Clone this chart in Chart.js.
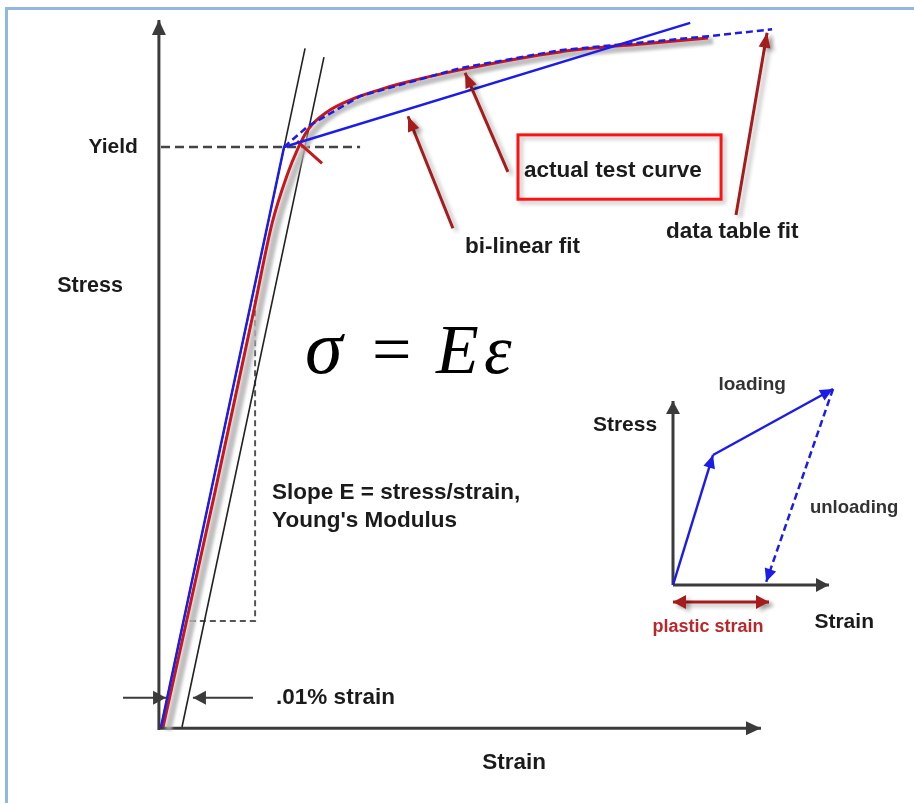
<!DOCTYPE html>
<html>
<head>
<meta charset="utf-8">
<script src="https://cdn.jsdelivr.net/npm/chart.js@4.4.1/dist/chart.umd.min.js"></script>
<style>
  html, body { margin: 0; padding: 0; background: #fff; }
  #wrap { position: relative; width: 914px; height: 803px; overflow: hidden; }
  #frame { position: absolute; left: 5px; top: 7px; width: 920px; height: 810px;
           border-top: 3px solid #94b7e1; border-left: 3px solid #94b7e1; pointer-events: none; }
  canvas { position: absolute; left: 0; top: 0; }
</style>
</head>
<body>
<div id="wrap">
  <canvas id="stressChart" width="914" height="803"></canvas>
  <div id="frame"></div>
</div>
<script>
// main diagram: strain in units of 0.01 %, stress scaled so that yield = 100
const strainRange = [-7.667, 35.857];
const stressRange = [-13.1, 125.35];
const yieldStress = 100;

// elastic line through the origin and the same line offset by .01 % strain
const elasticStrain = [0, 6.86];
const elasticStress = [0, 117.0];
const offsetStrain = [1, 7.76];
const offsetStress = [0, 115.5];

// actual test curve
const testStrain = [0.1, 2.57, 4.4, 5.3, 5.99, 6.5, 7.0, 7.89, 9.14, 10.43, 11.38, 14.24, 19.0, 23.29, 26.05];
const testStress = [0, 40.5, 71.5, 87.0, 95.0, 99.6, 103.0, 106.0, 108.3, 109.9, 110.9, 113.3, 116.4, 117.9, 118.8];

// bi-linear fit
const bilinStrain = [0, 5.86, 25.2];
const bilinStress = [0, 100, 121.4];

// data table fit
const tableStrain = [5.86, 7.0, 9.5, 14.24, 19.0, 26.05, 29.1];
const tableStress = [100, 103.6, 108.8, 113.6, 116.7, 119.1, 120.3];

// offset intersection mark
const markStrain = [6.48, 7.67];
const markStress = [101.0, 97.2];

// slope triangle
const slopeStrain = [4.48, 4.48, 1.33];
const slopeStress = [73.6, 18.3, 18.3];

// inset: loading / unloading path
const insetRange = { x: [-16.825, 6.025], y: [-5.45, 14.625] };
const loadStrain = [0, 1.0, 4.0];
const loadStress = [0, 3.25, 4.9];
const unloadStrain = [4.0, 2.33];
const unloadStress = [4.9, 0.08];
const plasticStrain = [0, 2.4];

const xy = (xs, ys) => xs.map((x, i) => ({ x, y: ys[i] }));

function line(xs, ys, color, width, extra) {
  return Object.assign({
    data: xy(xs, ys), borderColor: color, borderWidth: width, showLine: true,
    pointRadius: 0, fill: false, clip: false, tension: 0, borderCapStyle: 'butt'
  }, extra || {});
}
const inset = { xAxisID: 'xi', yAxisID: 'yi' };

const AXIS = '#3b3b3b', BLUE = '#1c1ce8', RED = '#c8161d', DARKRED = '#a61b1b';
const shade = 'rgba(0,0,0,0.28)';

// first dataset ends up on top
const datasets = [
  // pointers to the curves
  line([13.9, 11.76], [86.0, 105.3], DARKRED, 3, { head: 'end', hl: 15, hw: 6, shade }),
  line([16.52, 14.48], [95.7, 112.8], DARKRED, 3, { head: 'end', hl: 15, hw: 6, shade }),
  line([27.38, 28.86], [88.3, 119.7], DARKRED, 3, { head: 'end', hl: 15, hw: 6, shade }),
  // .01 % strain arrows
  line([-1.81, 0.24], [5.05, 5.05], AXIS, 2, { head: 'end', hl: 13, hw: 7 }),
  line([4.38, 1.52], [5.05, 5.05], AXIS, 2, { head: 'end', hl: 13, hw: 7 }),
  // inset
  line(plasticStrain, [-0.425, -0.425], DARKRED, 3, Object.assign({ head: 'both', hl: 13, hw: 7, shade }, inset)),
  line(unloadStrain, unloadStress, BLUE, 2.5, Object.assign({ head: 'end', hl: 13, hw: 6, borderDash: [7, 4] }, inset)),
  line(loadStrain.slice(1), loadStress.slice(1), BLUE, 2.5, Object.assign({ head: 'end', hl: 13, hw: 6 }, inset)),
  line(loadStrain.slice(0, 2), loadStress.slice(0, 2), BLUE, 2.5, Object.assign({ head: 'end', hl: 13, hw: 6 }, inset)),
  line([0, 0], [0, 4.6], AXIS, 3, Object.assign({ head: 'end', hl: 13, hw: 7 }, inset)),
  line([0, 3.9], [0, 0], AXIS, 3, Object.assign({ head: 'end', hl: 13, hw: 7 }, inset)),
  // fits and test curve
  line(tableStrain, tableStress, BLUE, 2.5, { borderDash: [7, 4] }),
  line(bilinStrain, bilinStress, BLUE, 2.5),
  line(markStrain, markStress, RED, 3),
  line(testStrain, testStress, RED, 3, { cubicInterpolationMode: 'monotone' }),
  line(testStrain, testStress, 'rgba(180,180,180,0.85)', 7, { cubicInterpolationMode: 'monotone', shift: [5, 3] }),
  // elastic lines
  line(elasticStrain, elasticStress, '#222', 1.6),
  line(offsetStrain, offsetStress, '#222', 1.6),
  // guides
  line([0, 9.48], [yieldStress, yieldStress], '#444', 2.5, { borderDash: [9, 5] }),
  line(slopeStrain, slopeStress, '#555', 2, { borderDash: [6, 4] }),
  // main axes
  line([-0.1, -0.1], [-0.5, 121.9], AXIS, 3, { head: 'end', hl: 15, hw: 7 }),
  line([-0.1, 28.57], [-0.2, -0.2], AXIS, 3, { head: 'end', hl: 15, hw: 7 })
];

const SANS = '"Liberation Sans", Arial, sans-serif';
const labels = [
  { t: 'Yield', x: -1.1, y: 100, align: 'right', size: 21 },
  { t: 'Stress', x: -3.38, y: 76, align: 'center', size: 21.5 },
  { t: 'Strain', x: 16.81, y: -6.2, align: 'center' },
  { t: '.01% strain', x: 5.48, y: 5.05, align: 'left' },
  { t: 'Slope E = stress/strain,', x: 5.29, y: 40.3, align: 'left' },
  { t: "Young's Modulus", x: 5.29, y: 35.5, align: 'left' },
  { t: 'actual test curve', x: 17.29, y: 95.9, align: 'left' },
  { t: 'bi-linear fit', x: 14.48, y: 82.8, align: 'left' },
  { t: 'data table fit', x: 24.05, y: 85.3, align: 'left' },
  { t: 'Stress', x: -1.2, y: 4.0, align: 'center', inset: true, size: 21 },
  { t: 'Strain', x: 4.28, y: -0.93, align: 'center', inset: true, size: 21 },
  { t: 'loading', x: 1.98, y: 5.0, align: 'center', inset: true, size: 19, color: '#333' },
  { t: 'unloading', x: 4.53, y: 1.93, align: 'center', inset: true, size: 18.5, color: '#333' },
  { t: 'plastic strain', x: 0.875, y: -1.05, align: 'center', inset: true, size: 18, color: '#b8282b' }
];
// sigma = E epsilon, baseline in stress units
const formula = [
  { t: 'σ', x: 6.86, italic: true, size: 76 },
  { t: '=', x: 10.05, italic: false, size: 70 },
  { t: 'E', x: 13.1, italic: true, size: 70 },
  { t: 'ε', x: 15.38, italic: true, size: 70 }
];
const formulaBaseline = 61.0;
const labelBox = { x: [17.0, 26.67], y: [102.1, 91.0] };

function arrowHead(ctx, from, to, len, half, color) {
  const a = Math.atan2(to.y - from.y, to.x - from.x);
  const bx = to.x - len * Math.cos(a), by = to.y - len * Math.sin(a);
  ctx.beginPath();
  ctx.moveTo(to.x, to.y);
  ctx.lineTo(bx + half * Math.sin(a), by - half * Math.cos(a));
  ctx.lineTo(bx - half * Math.sin(a), by + half * Math.cos(a));
  ctx.closePath();
  ctx.fillStyle = color;
  ctx.fill();
}

const decorations = {
  id: 'decorations',
  beforeDatasetDraw(chart, args) {
    const ds = chart.data.datasets[args.index];
    const ctx = chart.ctx;
    ctx.save();
    if (ds.shade) {
      ctx.shadowColor = ds.shade; ctx.shadowBlur = 4;
      ctx.shadowOffsetX = 4; ctx.shadowOffsetY = 3;
    }
    if (ds.shift) {
      ctx.translate(ds.shift[0], ds.shift[1]);
      ctx.filter = 'blur(1.5px)';
    }
  },
  afterDatasetDraw(chart, args) {
    const ds = chart.data.datasets[args.index];
    const ctx = chart.ctx;
    const p = args.meta.data;
    if (ds.head && p.length > 1) {
      ctx.setLineDash([]);
      arrowHead(ctx, p[p.length - 2], p[p.length - 1], ds.hl, ds.hw, ds.borderColor);
      if (ds.head === 'both') arrowHead(ctx, p[1], p[0], ds.hl, ds.hw, ds.borderColor);
    }
    ctx.restore();
  },
  afterDatasetsDraw(chart) {
    const ctx = chart.ctx;
    const s = chart.scales;
    ctx.save();
    ctx.textBaseline = 'middle';
    labels.forEach(l => {
      const px = l.inset ? s.xi.getPixelForValue(l.x) : s.x.getPixelForValue(l.x);
      const py = l.inset ? s.yi.getPixelForValue(l.y) : s.y.getPixelForValue(l.y);
      ctx.font = 'bold ' + (l.size || 22.5) + 'px ' + SANS;
      ctx.fillStyle = l.color || '#1b1b1b';
      ctx.textAlign = l.align;
      ctx.fillText(l.t, px, py);
    });
    ctx.textAlign = 'left';
    ctx.textBaseline = 'alphabetic';
    ctx.fillStyle = '#000';
    formula.forEach(f => {
      ctx.font = (f.italic ? 'italic ' : '') + f.size + 'px "Liberation Serif", "Times New Roman", serif';
      ctx.fillText(f.t, s.x.getPixelForValue(f.x), s.y.getPixelForValue(formulaBaseline));
    });
    // box round the test curve label
    const x0 = s.x.getPixelForValue(labelBox.x[0]), x1 = s.x.getPixelForValue(labelBox.x[1]);
    const y0 = s.y.getPixelForValue(labelBox.y[0]), y1 = s.y.getPixelForValue(labelBox.y[1]);
    ctx.shadowColor = 'rgba(0,0,0,0.25)'; ctx.shadowBlur = 4;
    ctx.shadowOffsetX = 3; ctx.shadowOffsetY = 3;
    ctx.strokeStyle = '#ff1212';
    ctx.lineWidth = 3;
    ctx.strokeRect(x0, y0, x1 - x0, y1 - y0);
    ctx.restore();
  }
};

new Chart(document.getElementById('stressChart'), {
  type: 'scatter',
  data: { datasets },
  options: {
    responsive: false,
    animation: false,
    events: [],
    layout: { padding: 0 },
    plugins: { legend: { display: false }, tooltip: { enabled: false } },
    scales: {
      x: { type: 'linear', min: strainRange[0], max: strainRange[1], display: false },
      y: { type: 'linear', min: stressRange[0], max: stressRange[1], display: false },
      xi: { type: 'linear', axis: 'x', min: insetRange.x[0], max: insetRange.x[1], display: false },
      yi: { type: 'linear', axis: 'y', min: insetRange.y[0], max: insetRange.y[1], display: false }
    }
  },
  plugins: [decorations]
});
</script>
</body>
</html>
